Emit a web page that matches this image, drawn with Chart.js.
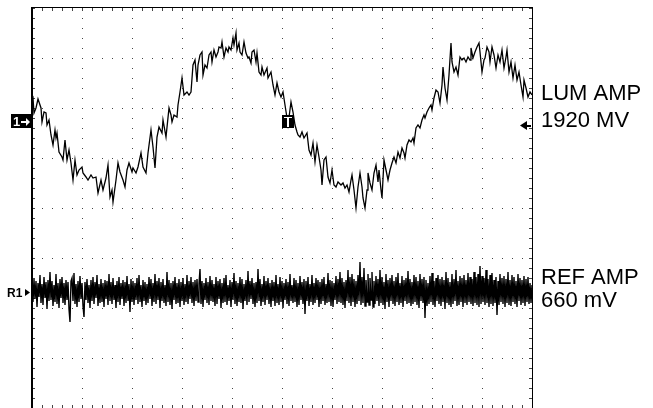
<!DOCTYPE html>
<html>
<head>
<meta charset="utf-8">
<script src="https://cdn.jsdelivr.net/npm/chart.js@4.4.0/dist/chart.umd.min.js"></script>
<style>
  html, body { margin: 0; padding: 0; background: #fff; }
  #wrap { width: 653px; height: 408px; }
</style>
</head>
<body>
<div id="wrap"><canvas id="scope" width="653" height="408"></canvas></div>
<script>
// CH1 (luminance) trace, time and level in divisions
var lumTime = [0.00,0.02,0.04,0.08,0.12,0.18,0.20,0.24,0.28,0.30,0.34,0.38,0.42,0.46,0.48,0.50,0.54,0.60,0.62,0.66,
  0.70,0.74,0.78,0.82,0.86,0.90,0.94,1.00,1.02,1.08,1.12,1.18,1.22,1.28,1.32,1.38,1.42,1.48,1.52,1.56,
  1.60,1.62,1.68,1.72,1.76,1.82,1.86,1.90,1.94,2.00,2.02,2.08,2.12,2.18,2.22,2.28,2.32,2.38,2.42,2.46,
  2.50,2.54,2.60,2.62,2.68,2.74,2.78,2.80,2.84,2.90,2.92,2.96,3.00,3.04,3.10,3.14,3.18,3.22,3.26,3.30,
  3.32,3.36,3.40,3.42,3.46,3.50,3.54,3.58,3.60,3.64,3.68,3.72,3.74,3.78,3.80,3.84,3.88,3.92,3.94,3.98,
  4.02,4.04,4.08,4.10,4.14,4.16,4.20,4.24,4.28,4.32,4.34,4.38,4.40,4.44,4.48,4.50,4.54,4.58,4.60,4.64,
  4.70,4.72,4.78,4.82,4.86,4.90,4.94,4.98,5.02,5.06,5.10,5.12,5.18,5.22,5.26,5.30,5.32,5.36,5.40,5.44,
  5.50,5.54,5.58,5.62,5.66,5.70,5.74,5.78,5.80,5.84,5.88,5.92,5.96,6.00,6.04,6.08,6.12,6.18,6.22,6.26,
  6.30,6.34,6.38,6.40,6.44,6.48,6.52,6.56,6.60,6.62,6.66,6.70,6.72,6.76,6.80,6.84,6.88,6.92,6.94,6.98,
  7.00,7.04,7.08,7.12,7.16,7.20,7.24,7.28,7.32,7.36,7.40,7.44,7.46,7.50,7.54,7.58,7.62,7.64,7.68,7.72,
  7.76,7.80,7.84,7.86,7.90,7.94,7.98,8.00,8.04,8.08,8.12,8.16,8.20,8.22,8.26,8.30,8.34,8.38,8.40,8.44,
  8.48,8.52,8.56,8.60,8.64,8.68,8.72,8.76,8.78,8.82,8.86,8.90,8.94,8.96,9.00,9.04,9.06,9.10,9.14,9.16,
  9.20,9.24,9.28,9.32,9.36,9.40,9.44,9.48,9.50,9.54,9.58,9.62,9.66,9.70,9.74,9.78,9.82,9.84,9.88,9.92,
  9.96,10.00];
var lumLevel = [2.16,2.20,1.90,2.00,2.18,2.00,1.72,1.92,1.90,1.66,1.76,1.46,1.26,1.56,1.40,1.50,1.12,1.02,0.96,1.36,
  0.96,1.16,0.90,0.56,0.96,0.66,0.76,0.82,0.70,0.62,0.56,0.66,0.60,0.62,0.30,0.56,0.36,0.60,0.86,0.22,
  0.36,0.12,0.56,0.90,0.72,0.56,0.42,0.76,0.90,0.72,0.80,0.70,0.82,1.10,0.82,0.70,1.10,1.56,1.22,0.80,
  1.42,1.62,1.50,1.76,1.42,2.00,1.86,1.72,1.86,1.82,2.06,2.32,2.60,2.26,2.32,2.26,2.32,2.86,2.96,2.52,
  2.86,3.06,3.12,2.66,2.86,2.80,3.06,3.12,2.92,3.16,3.02,3.12,3.22,3.20,3.32,3.02,3.20,3.12,3.22,3.16,
  3.40,3.26,3.50,3.16,3.30,3.12,3.06,3.32,3.10,3.00,3.02,2.90,3.12,3.16,2.92,3.10,2.72,2.66,2.82,2.66,
  2.80,2.60,2.72,2.46,2.26,2.50,2.32,2.22,2.32,2.06,1.80,1.66,2.12,1.92,1.66,1.52,1.46,1.42,1.52,1.40,
  1.50,1.16,1.06,1.30,0.92,1.26,1.02,0.76,0.46,0.96,1.02,0.62,0.50,0.76,0.46,0.42,0.52,0.46,0.50,0.40,
  0.46,0.32,0.56,0.66,0.36,0.00,0.42,0.70,0.42,0.20,0.00,0.36,0.70,0.50,0.36,0.70,0.86,0.52,0.76,0.36,
  0.20,0.96,0.76,0.56,0.76,0.90,1.02,0.90,1.12,1.00,1.20,1.10,1.00,1.26,1.36,1.32,1.40,1.30,1.60,1.66,
  1.60,1.76,1.86,1.80,1.92,2.00,2.06,1.96,2.20,2.36,2.32,2.10,2.46,2.82,2.40,2.16,2.66,3.30,2.92,2.72,
  2.82,2.66,3.02,2.96,3.00,2.92,3.02,2.96,3.20,3.00,3.12,3.22,3.30,3.12,2.72,2.96,3.00,3.22,3.12,2.92,
  3.22,3.06,2.80,3.06,2.92,3.16,2.80,3.02,3.16,2.72,2.92,2.60,2.86,2.56,2.72,2.46,2.22,2.56,2.40,2.22,
  2.32,2.26];

// R1 (reference) channel: deviation from its ground marker, one sample every refStep divisions
var refStep = 0.02;
var refNoise = [0.12,-0.20,0.26,-0.14,0.22,-0.30,0.18,-0.10,0.34,-0.22,
  0.16,-0.26,0.30,-0.12,0.20,-0.34,0.24,-0.18,0.40,-0.16,
  0.22,-0.28,0.14,-0.20,0.36,-0.24,0.18,-0.32,0.26,-0.12,
  0.30,-0.22,0.18,-0.26,0.24,-0.16,0.20,-0.34,-0.60,0.22,
  0.28,-0.18,0.38,-0.24,0.16,-0.30,0.22,-0.20,0.32,-0.14,
  0.18,-0.28,-0.50,0.20,-0.16,0.26,-0.22,0.14,-0.32,0.24,
  -0.18,0.30,-0.24,0.20,-0.12,0.34,-0.28,0.16,-0.22,0.26,
  -0.20,0.18,-0.30,0.24,-0.14,0.22,-0.26,0.36,-0.18,0.20,
  -0.24,0.28,-0.16,0.14,-0.32,0.22,-0.20,0.30,-0.26,0.18,
  -0.14,0.24,-0.28,0.20,-0.22,0.32,-0.18,0.16,-0.40,0.26,
  -0.20,0.22,-0.26,0.18,-0.16,0.28,-0.24,0.34,-0.20,0.14,
  -0.30,0.24,-0.18,0.20,-0.26,0.16,-0.22,0.30,-0.14,0.26,
  -0.28,0.18,-0.20,0.36,-0.24,0.22,-0.16,0.28,-0.32,0.20,
  -0.18,0.26,-0.22,0.14,-0.28,0.40,-0.20,0.24,-0.26,0.18,
  -0.34,0.22,-0.16,0.30,-0.24,0.18,-0.22,0.26,-0.30,0.20,
  -0.18,0.28,-0.26,0.16,-0.20,0.34,-0.24,0.22,-0.14,0.30,
  -0.22,0.20,-0.28,0.24,-0.18,0.26,-0.20,0.16,0.46,-0.24,
  0.22,-0.30,0.18,-0.16,0.28,-0.22,0.20,-0.26,0.32,-0.18,
  0.24,-0.20,0.16,-0.28,0.30,-0.24,0.22,-0.14,0.26,-0.32,
  0.18,-0.22,0.28,-0.20,0.34,-0.26,0.14,-0.18,0.24,-0.30,
  0.20,-0.16,0.38,-0.24,0.22,-0.28,0.18,-0.20,0.30,-0.22,
  0.26,-0.34,0.16,-0.18,0.24,-0.26,0.42,-0.20,0.22,-0.14,
  0.28,-0.24,0.18,-0.30,0.20,-0.22,0.46,-0.18,0.26,-0.28,
  0.16,-0.20,0.32,-0.26,0.22,-0.16,0.28,-0.24,0.18,-0.30,
  0.24,-0.18,0.20,-0.28,0.34,-0.22,0.16,-0.26,0.30,-0.20,
  0.22,-0.32,0.18,-0.16,0.26,-0.24,0.20,-0.28,0.36,-0.18,
  0.14,-0.22,0.28,-0.20,0.24,-0.30,0.18,-0.26,0.32,-0.16,
  0.20,-0.24,0.26,-0.44,0.22,-0.18,0.30,-0.28,0.16,-0.20,
  0.34,-0.26,0.18,-0.22,0.28,-0.16,0.24,-0.30,0.20,-0.24,
  0.26,-0.18,0.30,-0.26,0.16,-0.22,0.38,-0.20,0.24,-0.28,
  0.22,-0.30,0.18,-0.16,0.32,-0.24,0.26,-0.20,0.40,-0.22,
  0.28,-0.26,0.20,-0.32,0.24,-0.18,0.44,-0.22,0.30,-0.28,
  0.36,-0.20,0.26,-0.30,0.22,-0.24,0.34,-0.18,0.60,-0.26,
  0.30,-0.22,0.48,-0.28,0.24,-0.20,0.36,-0.26,0.28,-0.16,
  0.40,-0.30,0.22,-0.24,0.32,-0.18,0.26,-0.28,0.44,-0.22,
  0.30,-0.26,0.20,-0.34,0.36,-0.20,0.24,-0.30,0.28,-0.18,
  0.34,-0.24,0.22,-0.28,0.30,-0.20,0.38,-0.26,0.18,-0.22,
  0.32,-0.30,0.24,-0.18,0.28,-0.24,0.42,-0.22,0.26,-0.28,
  0.20,-0.24,0.34,-0.20,0.30,-0.26,0.22,-0.32,0.36,-0.18,
  0.26,-0.22,0.30,-0.52,0.24,-0.28,0.18,-0.24,0.32,-0.20,
  0.38,-0.26,0.22,-0.30,0.28,-0.18,0.34,-0.24,0.26,-0.28,
  0.30,-0.20,0.24,-0.34,0.40,-0.22,0.28,-0.26,0.20,-0.30,
  0.36,-0.24,0.26,-0.18,0.44,-0.28,0.22,-0.26,0.32,-0.20,
  0.28,-0.30,0.34,-0.22,0.24,-0.26,0.38,-0.20,0.30,-0.24,
  0.26,-0.28,0.40,-0.22,0.30,-0.26,0.36,-0.30,0.52,-0.24,
  0.32,-0.20,0.28,-0.26,0.44,-0.22,0.26,-0.30,0.34,-0.24,
  0.38,-0.28,0.24,-0.22,0.30,-0.46,0.22,-0.26,0.36,-0.20,
  0.28,-0.24,0.32,-0.30,0.26,-0.22,0.40,-0.26,0.24,-0.28,
  0.34,-0.20,0.30,-0.24,0.22,-0.30,0.36,-0.18,0.28,-0.26,
  0.24,-0.22,0.32,-0.28,0.26,-0.20,0.30,-0.24,0.18,-0.22,
  0.14];

// marker levels (divisions from screen centre)
var lumGround = 1.74;
var refGround = -1.68;
var trigTime = 5.0;
var trigLevel = 1.66;
var lumText = ["LUM AMP", "1920 MV"];
var refText = ["REF AMP", "660 mV"];

var lumPoints = lumTime.map(function (t, i) { return { x: t, y: lumLevel[i] }; });
var refPoints = refNoise.map(function (n, i) { return { x: i * refStep, y: refGround + n }; });

var scopeScreen = {
  id: "scopeScreen",
  beforeDatasetsDraw: function (chart) {
    var ctx = chart.ctx, xs = chart.scales.x, ys = chart.scales.y;
    ctx.save();
    ctx.fillStyle = "#444";
    var k, i, px, py;
    // dotted graticule
    for (i = 1; i <= 9; i++) {
      px = Math.round(xs.getPixelForValue(i));
      for (k = 0; k <= 40; k++) {
        py = Math.round(ys.getPixelForValue(-4 + k * 0.2));
        ctx.fillRect(px, py, 1, 1);
      }
    }
    for (i = -3; i <= 3; i++) {
      py = Math.round(ys.getPixelForValue(i));
      for (k = 0; k <= 50; k++) {
        px = Math.round(xs.getPixelForValue(k * 0.2));
        ctx.fillRect(px, py, 1, 1);
      }
    }
    // minor ticks along the frame
    var a = chart.chartArea;
    for (k = 0; k <= 40; k++) {
      py = Math.round(ys.getPixelForValue(-4 + k * 0.2));
      ctx.fillRect(a.left, py, 3, 1);
      ctx.fillRect(a.right - 3, py, 3, 1);
    }
    for (k = 0; k <= 50; k++) {
      px = Math.round(xs.getPixelForValue(k * 0.2));
      ctx.fillRect(px, a.top, 1, 3);
      ctx.fillRect(px, a.bottom - 3, 1, 3);
    }
    ctx.restore();
  },
  afterDatasetsDraw: function (chart) {
    var ctx = chart.ctx, xs = chart.scales.x, ys = chart.scales.y, a = chart.chartArea;
    ctx.save();
    ctx.fillStyle = "#000";
    // frame
    ctx.fillRect(a.left - 1, a.top - 1, a.right - a.left + 2, 1);
    ctx.fillRect(a.left - 1, a.top - 1, 2, a.bottom - a.top + 1);
    ctx.fillRect(a.right, a.top - 1, 1, a.bottom - a.top + 1);

    // channel 1 ground marker
    var g1 = Math.round(ys.getPixelForValue(lumGround));
    ctx.fillRect(a.left - 21, g1 - 7, 21, 14);
    ctx.fillStyle = "#fff";
    ctx.font = "bold 13px 'Liberation Sans', Arial, sans-serif";
    ctx.textBaseline = "middle";
    ctx.fillText("1", a.left - 19, g1 + 1);
    ctx.fillRect(a.left - 11, g1, 6, 2);
    ctx.beginPath();
    ctx.moveTo(a.left - 2, g1 + 1);
    ctx.lineTo(a.left - 6, g1 - 3);
    ctx.lineTo(a.left - 6, g1 + 5);
    ctx.closePath();
    ctx.fill();

    // trigger position marker
    var tx = Math.round(xs.getPixelForValue(trigTime));
    ctx.fillStyle = "#000";
    ctx.fillRect(tx, g1 - 6, 12, 13);
    ctx.fillStyle = "#fff";
    ctx.fillRect(tx + 2, g1 - 4, 8, 1);
    ctx.fillRect(tx + 5, g1 - 4, 2, 10);

    // trigger level arrow on the right
    var tl = Math.round(ys.getPixelForValue(trigLevel));
    ctx.fillStyle = "#000";
    ctx.beginPath();
    ctx.moveTo(a.right - 12, tl + 0.5);
    ctx.lineTo(a.right - 5, tl - 4);
    ctx.lineTo(a.right - 5, tl + 5);
    ctx.closePath();
    ctx.fill();
    ctx.fillRect(a.right - 5, tl, 4, 2);

    // R1 marker
    var g2 = Math.round(ys.getPixelForValue(refGround));
    ctx.font = "bold 12px 'Liberation Sans', Arial, sans-serif";
    ctx.textBaseline = "alphabetic";
    ctx.fillText("R1", a.left - 25, g2 + 5);
    ctx.beginPath();
    ctx.moveTo(a.left - 7, g2 - 3);
    ctx.lineTo(a.left - 2, g2 + 0.5);
    ctx.lineTo(a.left - 7, g2 + 4);
    ctx.closePath();
    ctx.fill();

    // channel readouts
    ctx.font = "22px 'Liberation Sans', Arial, sans-serif";
    ctx.fillText(lumText[0], a.right + 9, g1 - 21);
    ctx.fillText(lumText[1], a.right + 9, g1 + 6);
    ctx.fillText(refText[0], a.right + 9, g2 - 8);
    ctx.fillText(refText[1], a.right + 9, g2 + 15);
    ctx.restore();
  }
};

new Chart(document.getElementById("scope"), {
  type: "line",
  data: {
    datasets: [
      { label: "LUM", data: lumPoints, borderColor: "#000", borderWidth: 1.3, pointRadius: 0, tension: 0, fill: false },
      { label: "REF", data: refPoints, borderColor: "#000", borderWidth: 1.4, pointRadius: 0, tension: 0, fill: false }
    ]
  },
  options: {
    responsive: false,
    animation: false,
    devicePixelRatio: 1,
    layout: { padding: { left: 32, right: 121, top: 8, bottom: 0 } },
    scales: {
      x: { type: "linear", min: 0, max: 10, display: false },
      y: { type: "linear", min: -4, max: 4, display: false }
    },
    plugins: {
      legend: { display: false },
      tooltip: { enabled: false }
    }
  },
  plugins: [scopeScreen]
});
</script>
</body>
</html>
